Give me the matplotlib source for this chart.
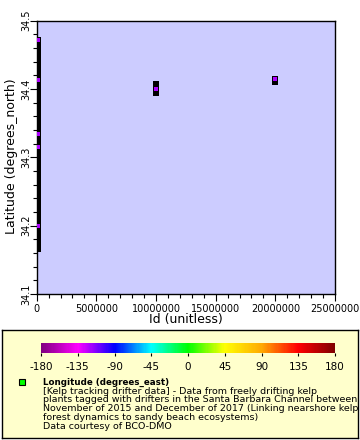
import matplotlib
matplotlib.use("Agg")
import matplotlib.pyplot as plt
from matplotlib.colors import LinearSegmentedColormap, Normalize
from matplotlib.ticker import MultipleLocator
import numpy as np

W, H = 360, 440

# drifter ids (three groups) and the latitudes seen at each id
group_ids = [120000, 10010000, 20002000]
lat_group0 = [34.472, 34.466, 34.459, 34.452, 34.445, 34.438, 34.431, 34.424, 34.418, 34.413,
              34.406, 34.399, 34.392, 34.386, 34.379, 34.372, 34.365, 34.358, 34.351, 34.344,
              34.338, 34.334, 34.327, 34.321, 34.315, 34.308, 34.301, 34.294, 34.287, 34.281,
              34.277, 34.270, 34.263, 34.256, 34.249, 34.242, 34.235, 34.228, 34.221, 34.214,
              34.207, 34.199, 34.192, 34.185, 34.178, 34.172, 34.166]
lat_group1 = [34.408, 34.4005, 34.394]
lat_group2 = [34.415, 34.410]

# points whose coloured fill stays visible on top, with their longitude
top_ids = [120000, 120000, 120000, 120000, 120000, 10010000, 20002000]
top_lats = [34.472, 34.413, 34.334, 34.315, 34.199, 34.4005, 34.415]
top_lons = [-119.8, -119.9, -119.8, -119.9, -119.7, -119.9, -119.8]

cb_ticks = [-180, -135, -90, -45, 0, 45, 90, 135, 180]
cb_colors = ["#800080", "#ff00ff", "#0000ff", "#00ffff", "#00ff00",
             "#ffff00", "#ffaa00", "#ff0000", "#800000"]
cmap = LinearSegmentedColormap.from_list("rainbow2", cb_colors)
norm = Normalize(-180, 180)

legend_lines = [
    "[Kelp tracking drifter data] - Data from freely drifting kelp",
    "plants tagged with drifters in the Santa Barbara Channel between",
    "November of 2015 and December of 2017 (Linking nearshore kelp",
    "forest dynamics to sandy beach ecosystems)",
    "Data courtesy of BCO-DMO",
]

plt.rcParams["font.family"] = "DejaVu Sans"
plt.rcParams["axes.unicode_minus"] = False

fig = plt.figure(figsize=(W / 100, H / 100), dpi=100)


def fx(px):
    return px / W


def fy(py):
    return 1 - py / H


# main axes
ax = fig.add_axes([fx(36.7), fy(294), fx(335) - fx(36.7), fy(20.7) - fy(294)])
ax.set_facecolor("#ccccff")
ax.set_xlim(0, 25000000)
ax.set_ylim(34.1, 34.5)

all_x = [group_ids[0]] * len(lat_group0) + [group_ids[1]] * len(lat_group1) + [group_ids[2]] * len(lat_group2)
all_y = lat_group0 + lat_group1 + lat_group2
side_px = 6.0
ax.scatter(all_x, all_y, marker="s", s=(side_px * 0.72) ** 2, c="black", linewidths=0, zorder=3)
ax.scatter(top_ids, top_lats, marker="s", s=(4 * 0.72) ** 2, c=top_lons, cmap=cmap, norm=norm,
           linewidths=0, zorder=4)

ax.xaxis.set_major_locator(MultipleLocator(5000000))
ax.xaxis.set_minor_locator(MultipleLocator(1000000))
ax.yaxis.set_major_locator(MultipleLocator(0.1))
ax.yaxis.set_minor_locator(MultipleLocator(0.02))
ax.xaxis.set_major_formatter(matplotlib.ticker.FuncFormatter(lambda v, p: "%d" % v))
ax.yaxis.set_major_formatter(matplotlib.ticker.FuncFormatter(lambda v, p: "%.1f" % v))
ax.tick_params(which="major", length=5, width=0.8, labelsize=7, color="black")
ax.tick_params(which="minor", length=3, width=0.8, color="black")
ax.tick_params(axis="x", which="major", pad=2)
ax.tick_params(axis="y", which="major", pad=-1)
for lab in ax.get_yticklabels():
    lab.set_rotation(90)
    lab.set_va("center")
for sp in ax.spines.values():
    sp.set_linewidth(1.0)

fig.text(fx(11.5), fy(156), "Latitude (degrees_north)", rotation=90, ha="center", va="center", fontsize=9)
fig.text(fx(186), fy(319), "Id (unitless)", ha="center", va="center", fontsize=9)

# legend box
lax = fig.add_axes([fx(2), fy(438), fx(358) - fx(2), fy(330) - fy(438)])
lax.set_facecolor("#ffffcc")
lax.set_xticks([])
lax.set_yticks([])
for sp in lax.spines.values():
    sp.set_linewidth(1.0)

cax = fig.add_axes([fx(41), fy(353.3), fx(335) - fx(41), fy(342.7) - fy(353.3)])
sm = plt.cm.ScalarMappable(norm=norm, cmap=cmap)
cb = fig.colorbar(sm, cax=cax, orientation="horizontal", ticks=cb_ticks)
cb.outline.set_visible(False)
cax.tick_params(length=2, width=0.8, labelsize=7.5, pad=4)

fig.add_artist(plt.Rectangle((fx(19), fy(385)), fx(6), 6 / H, facecolor="#00ff00",
                             edgecolor="black", linewidth=0.8, transform=fig.transFigure))
fig.text(fx(42.7), fy(382), "Longitude (degrees_east)", fontsize=6.3, fontweight="bold",
         ha="left", va="center")
for k, line in enumerate(legend_lines):
    fig.text(fx(42.7), fy(391 + 8.9 * k), line, fontsize=6.8, ha="left", va="center")

fig.savefig("out.png", dpi=100)
